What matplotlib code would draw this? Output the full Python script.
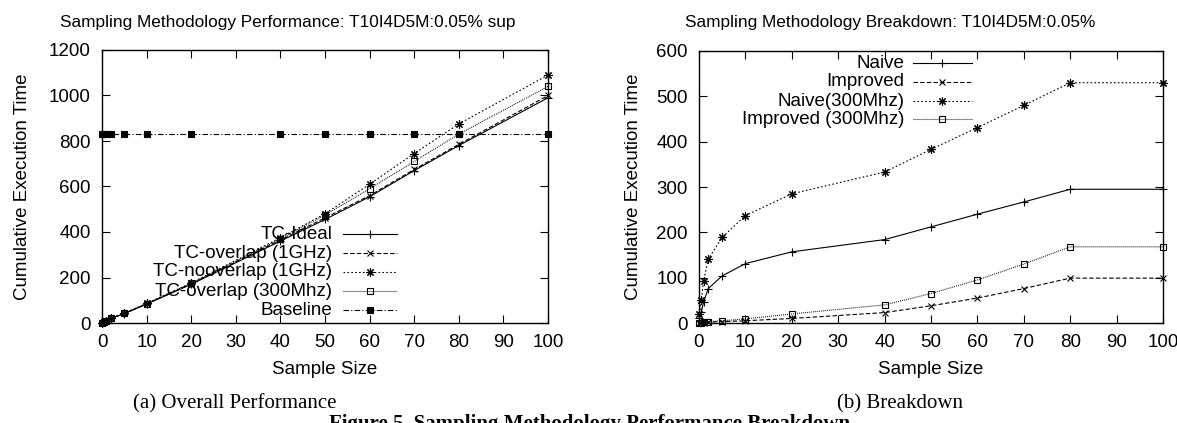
import matplotlib
matplotlib.use("Agg")
import matplotlib.pyplot as plt

plt.rcParams['font.family'] = ['Liberation Sans', 'DejaVu Sans']

# sample sizes (x axis of both panels)
sizes = [0.1, 0.5, 1, 2, 5, 10, 20, 40, 50, 60, 70, 80, 100]

# (a) overall performance
tc_ideal = [1, 5, 10, 20, 41, 83, 170, 360, 455, 555, 670, 780, 990]
tc_overlap_1g = [1, 5, 10, 20, 42, 84, 172, 365, 462, 560, 675, 785, 1000]
tc_nooverlap_1g = [1, 5, 10, 21, 43, 86, 176, 375, 480, 610, 745, 875, 1090]
tc_overlap_300 = [1, 5, 10, 21, 42, 85, 174, 370, 475, 590, 710, 830, 1040]
baseline = [830] * 13

# (b) breakdown
naive = [10, 25, 47, 76, 104, 131, 157, 184, 212, 240, 267, 295, 295]
improved = [0, 1, 1, 2, 3, 5, 10, 23, 38, 55, 76, 99, 99]
naive_300 = [20, 50, 93, 141, 189, 237, 285, 333, 383, 431, 480, 530, 530]
improved_300 = [0, 1, 2, 3, 5, 9, 20, 40, 65, 95, 130, 168, 168]

W, H = 1177, 423
FS = 13.5      # ticks, axis labels, key
TFS = 12.4     # titles
ASTER = (8, 2, 0)

styles = {
    'solid': dict(ls='-', marker='+', ms=6, mfc='black'),
    'dash': dict(ls=(0, (4, 2)), marker='x', ms=4.5),
    'dot': dict(ls=(0, (1.5, 2)), marker=ASTER, ms=6),
    'fine': dict(ls=(0, (0.8, 1)), marker='s', ms=4.5, mfc='none'),
    'dashdot': dict(ls=(0, (5, 2, 1, 2)), marker='s', ms=4.5, mfc='black'),
}

fig = plt.figure(figsize=(W / 100, H / 100), dpi=100)


def px_axes(x0, x1, ytop, ybot):
    return fig.add_axes([x0 / W, (H - ybot) / H, (x1 - x0) / W, (ybot - ytop) / H])


def setup(ax, ymax, ystep, ylab_x):
    ax.set_xlim(0, 100)
    ax.set_ylim(0, ymax)
    ax.set_xticks(range(0, 101, 10))
    ax.set_yticks(range(0, ymax + 1, ystep))
    ax.tick_params(direction='in', length=6, width=0.8, top=True, right=True,
                   labelsize=FS, pad=8, colors='black')
    for s in ax.spines.values():
        s.set_linewidth(1.0)
    ax.set_ylabel('Cumulative Execution Time', fontsize=FS, va='center')
    ax.yaxis.set_label_coords(ylab_x, 0.5)
    ax.set_xlabel('Sample Size', fontsize=FS, va='center')
    ax.xaxis.set_label_coords(0.5, -0.172)


def legend_rows(ax, entries, xtext, xl0, xl1, ys):
    # gnuplot-style key: text right aligned, line sample to the right
    for (label, st), y in zip(entries, ys):
        ax.text(xtext, y, label, transform=ax.transAxes, ha='right', va='center',
                fontsize=FS)
        ax.plot([xl0, xl1], [y, y], transform=ax.transAxes, color='black', lw=0.8,
                ls=styles[st]['ls'], clip_on=False)
        kw = {k: v for k, v in styles[st].items() if k != 'ls'}
        ax.plot([(xl0 + xl1) / 2], [y], transform=ax.transAxes, color='black',
                ls='none', mew=0.8, clip_on=False, **kw)


def series(ax, x, y, st):
    ax.plot(x, y, color='black', lw=0.8, mew=0.8, clip_on=False, **styles[st])


# ---- left panel
ax1 = px_axes(102, 548, 50, 323)
setup(ax1, 1200, 200, (23 - 102) / 446)
left = [('TC-Ideal', tc_ideal, 'solid'),
        ('TC-overlap (1GHz)', tc_overlap_1g, 'dash'),
        ('TC-nooverlap (1GHz)', tc_nooverlap_1g, 'dot'),
        ('TC-overlap (300Mhz)', tc_overlap_300, 'fine'),
        ('Baseline', baseline, 'dashdot')]
for lab, vals, st in left:
    series(ax1, sizes, vals, st)
ys = [(323 - y) / 273 for y in (234, 253, 272, 291, 310)]
legend_rows(ax1, [(l, s) for l, _, s in left], 0.516, 0.540, 0.661, ys)

# ---- right panel
ax2 = px_axes(699, 1163, 51, 323)
setup(ax2, 600, 100, (633 - 699) / 464)
right = [('Naive', naive, 'solid'),
         ('Improved', improved, 'dash'),
         ('Naive(300Mhz)', naive_300, 'dot'),
         ('Improved (300Mhz)', improved_300, 'fine')]
for lab, vals, st in right:
    series(ax2, sizes, vals, st)
ys = [(323 - y) / 272 for y in (63, 82, 101, 119)]
legend_rows(ax2, [(l, s) for l, _, s in right], 0.442, 0.461, 0.588, ys)

# titles (gnuplot places them slightly left of the plot centre)
fig.text(288 / W, 1 - 23 / H, 'Sampling Methodology Performance: T10I4D5M:0.05% sup',
         ha='center', va='center', fontsize=TFS)
fig.text(890 / W, 1 - 23 / H, 'Sampling Methodology Breakdown: T10I4D5M:0.05%',
         ha='center', va='center', fontsize=TFS)

# captions
serif = ['Liberation Serif', 'DejaVu Serif']
fig.text(235 / W, 1 - 404 / H, '(a) Overall Performance', ha='center', va='center',
         fontsize=15, family=serif)
fig.text(900 / W, 1 - 404 / H, '(b) Breakdown', ha='center', va='center',
         fontsize=15, family=serif)
fig.text(590 / W, 1 - 414 / H, 'Figure 5. Sampling Methodology Performance Breakdown',
         ha='center', va='top', fontsize=15, family=serif, weight='bold')

fig.savefig('out.png', dpi=100)
